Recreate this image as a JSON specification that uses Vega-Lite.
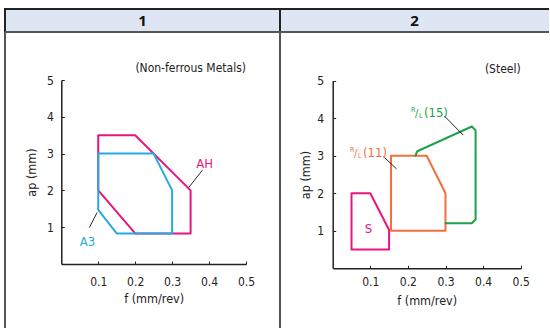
{
  "$schema": "https://vega.github.io/schema/vega-lite/v6.json",
  "padding": {"left": 4, "top": 8, "right": 0, "bottom": 0},
  "spacing": 0,
  "bounds": "flush",
  "align": "each",
  "columns": 2,
  "config": {
    "font": "Liberation Sans Narrow, DejaVu Sans Condensed, Roboto, sans-serif",
    "view": {"stroke": null}
  },
  "datasets": {
    "poly1": [
      {"shape": "AH", "order": 1, "f": 0.1, "ap": 3.5},
      {"shape": "AH", "order": 2, "f": 0.2, "ap": 3.5},
      {"shape": "AH", "order": 3, "f": 0.35, "ap": 2.0},
      {"shape": "AH", "order": 4, "f": 0.35, "ap": 0.83},
      {"shape": "AH", "order": 5, "f": 0.2, "ap": 0.83},
      {"shape": "AH", "order": 6, "f": 0.1, "ap": 2.0},
      {"shape": "AH", "order": 7, "f": 0.1, "ap": 3.5},
      {"shape": "A3", "order": 1, "f": 0.1, "ap": 3.0},
      {"shape": "A3", "order": 2, "f": 0.25, "ap": 3.0},
      {"shape": "A3", "order": 3, "f": 0.3, "ap": 2.0},
      {"shape": "A3", "order": 4, "f": 0.3, "ap": 0.83},
      {"shape": "A3", "order": 5, "f": 0.15, "ap": 0.83},
      {"shape": "A3", "order": 6, "f": 0.1, "ap": 1.47},
      {"shape": "A3", "order": 7, "f": 0.1, "ap": 3.0}
    ],
    "poly2": [
      {"shape": "S", "order": 1, "f": 0.05, "ap": 2.0},
      {"shape": "S", "order": 2, "f": 0.1, "ap": 2.0},
      {"shape": "S", "order": 3, "f": 0.15, "ap": 1.02},
      {"shape": "S", "order": 4, "f": 0.15, "ap": 0.5},
      {"shape": "S", "order": 5, "f": 0.05, "ap": 0.5},
      {"shape": "S", "order": 6, "f": 0.05, "ap": 2.0},
      {"shape": "RL11", "order": 1, "f": 0.155, "ap": 3.0},
      {"shape": "RL11", "order": 2, "f": 0.25, "ap": 3.0},
      {"shape": "RL11", "order": 3, "f": 0.3, "ap": 2.0},
      {"shape": "RL11", "order": 4, "f": 0.3, "ap": 1.0},
      {"shape": "RL11", "order": 5, "f": 0.155, "ap": 1.0},
      {"shape": "RL11", "order": 6, "f": 0.155, "ap": 3.0},
      {"shape": "RL15", "order": 1, "f": 0.22, "ap": 3.0},
      {"shape": "RL15", "order": 2, "f": 0.225, "ap": 3.12},
      {"shape": "RL15", "order": 3, "f": 0.37, "ap": 3.78},
      {"shape": "RL15", "order": 4, "f": 0.38, "ap": 3.68},
      {"shape": "RL15", "order": 5, "f": 0.38, "ap": 1.3},
      {"shape": "RL15", "order": 6, "f": 0.37, "ap": 1.2},
      {"shape": "RL15", "order": 7, "f": 0.3, "ap": 1.2}
    ],
    "labels1": [
      {"text": "AH", "shape": "AH", "f": 0.388, "ap": 2.61},
      {"text": "A3", "shape": "A3", "f": 0.071, "ap": 0.5}
    ],
    "labels2": [
      {"text": "S", "shape": "S", "f": 0.095, "ap": 0.95}
    ],
    "rl2": [
      {"sup": "R", "sub": "L", "num": "(11)", "shape": "RL11", "f": 0.046, "ap": 2.97},
      {"sup": "R", "sub": "L", "num": "(15)", "shape": "RL15", "f": 0.208, "ap": 4.035}
    ],
    "leaders1": [
      {"id": "AH", "order": 1, "f": 0.382, "ap": 2.55},
      {"id": "AH", "order": 2, "f": 0.345, "ap": 2.08},
      {"id": "A3", "order": 1, "f": 0.076, "ap": 0.99},
      {"id": "A3", "order": 2, "f": 0.097, "ap": 1.4}
    ],
    "leaders2": [
      {"id": "RL11", "order": 1, "f": 0.135, "ap": 2.976},
      {"id": "RL11", "order": 2, "f": 0.17, "ap": 2.65},
      {"id": "RL15", "order": 1, "f": 0.297, "ap": 4.06},
      {"id": "RL15", "order": 2, "f": 0.347, "ap": 3.55}
    ],
    "note1": [{"text": "(Non-ferrous Metals)", "f": 0.5, "ap": 5}],
    "note2": [{"text": "(Steel)", "f": 0.5, "ap": 5}]
  },
  "concat": [
    {
      "width": 275,
      "height": 23,
      "view": {"fill": "#dfe6f3", "stroke": "#222222", "strokeWidth": 2},
      "data": {"values": [{"col": "1"}]},
      "mark": {"type": "text", "font": "Open Sans", "fontWeight": "bold", "fontSize": 15, "color": "#111111"},
      "encoding": {"text": {"field": "col"}}
    },
    {
      "width": 269,
      "height": 23,
      "view": {"fill": "#dfe6f3", "stroke": "#222222", "strokeWidth": 2, "strokeDash": [269, 23, 292, 0]},
      "data": {"values": [{"col": "2"}]},
      "mark": {"type": "text", "font": "Open Sans", "fontWeight": "bold", "fontSize": 15, "color": "#111111"},
      "encoding": {"text": {"field": "col"}}
    },
    {
      "width": 275,
      "height": 296,
      "view": {"stroke": "#555555", "strokeWidth": 2, "strokeDash": [571, 275, 296, 0]},
      "encoding": {
        "x": {
          "field": "f", "type": "quantitative",
          "scale": {"domain": [0, 0.5], "range": [56.3, 241], "nice": false, "zero": false},
          "axis": {
            "orient": "bottom", "offset": -64, "values": [0.1, 0.2, 0.3, 0.4, 0.5], "format": ".1f",
            "grid": false, "tickSize": -3, "tickColor": "#222222", "domainColor": "#222222", "domainWidth": 1.5,
            "labelPadding": 15, "labelFontSize": 12, "labelColor": "#222222", "labelFlush": false, "labelOverlap": false,
            "title": "f (mm/rev)", "titleFontSize": 12.5, "titleFontWeight": "normal", "titleColor": "#222222", "titlePadding": 5,
            "zindex": 1
          }
        },
        "y": {
          "field": "ap", "type": "quantitative",
          "scale": {"domain": [0, 5], "range": [232, 48], "nice": false, "zero": false},
          "axis": {
            "orient": "left", "offset": -56.3, "values": [1, 2, 3, 4, 5], "format": "d",
            "grid": false, "tickSize": -3, "tickColor": "#222222", "domainColor": "#222222", "domainWidth": 1.5,
            "labelPadding": 11, "labelFontSize": 12, "labelColor": "#222222", "labelFlush": false, "labelOverlap": false,
            "title": "ap (mm)", "titleFontSize": 12.5, "titleFontWeight": "normal", "titleColor": "#222222", "titlePadding": 8,
            "zindex": 1
          }
        }
      },
      "layer": [
        {
          "data": {"values": [{}]},
          "mark": {"type": "rect", "fill": null, "stroke": "#8a8a8a", "strokeWidth": 1.3},
          "encoding": {
            "x": {"datum": 0, "type": "quantitative"},
            "x2": {"datum": 0.5},
            "y": {"datum": 0, "type": "quantitative"},
            "y2": {"datum": 5}
          }
        },
        {
          "data": {"name": "poly1"},
          "mark": {"type": "line", "strokeWidth": 2, "strokeJoin": "round", "strokeCap": "round"},
          "encoding": {
            "color": {"field": "shape", "type": "nominal", "legend": null,
              "scale": {"domain": ["AH", "A3", "S", "RL11", "RL15"], "range": ["#e5177e", "#27a9e1", "#e5177e", "#f26f3f", "#1da24a"]}},
            "order": {"field": "order", "type": "quantitative"}
          }
        },
        {
          "data": {"name": "leaders1"},
          "mark": {"type": "line", "strokeWidth": 0.9, "color": "#111111"},
          "encoding": {
            "detail": {"field": "id", "type": "nominal"},
            "order": {"field": "order", "type": "quantitative"}
          }
        },
        {
          "data": {"name": "labels1"},
          "mark": {"type": "text", "fontSize": 13, "align": "center", "baseline": "alphabetic"},
          "encoding": {
            "text": {"field": "text"},
            "color": {"field": "shape", "type": "nominal", "legend": null,
              "scale": {"domain": ["AH", "A3", "S", "RL11", "RL15"], "range": ["#e5177e", "#27a9e1", "#e5177e", "#f26f3f", "#1da24a"]}}
          }
        },
        {
          "data": {"name": "note1"},
          "mark": {"type": "text", "fontSize": 12, "align": "right", "baseline": "alphabetic", "dy": -8, "color": "#222222"},
          "encoding": {"text": {"field": "text"}}
        }
      ]
    },
    {
      "width": 269,
      "height": 296,
      "view": {"stroke": "#555555", "strokeWidth": 2, "strokeDash": [269, 565, 296, 0]},
      "encoding": {
        "x": {
          "field": "f", "type": "quantitative",
          "scale": {"domain": [0, 0.5], "range": [52.7, 240.7], "nice": false, "zero": false},
          "axis": {
            "orient": "bottom", "offset": -59.7, "values": [0.1, 0.2, 0.3, 0.4, 0.5], "format": ".1f",
            "grid": false, "tickSize": -3, "tickColor": "#222222", "domainColor": "#222222", "domainWidth": 1.5,
            "labelPadding": 11, "labelFontSize": 12, "labelColor": "#222222", "labelFlush": false, "labelOverlap": false,
            "title": "f (mm/rev)", "titleFontSize": 12.5, "titleFontWeight": "normal", "titleColor": "#222222", "titlePadding": 7,
            "zindex": 1
          }
        },
        "y": {
          "field": "ap", "type": "quantitative",
          "scale": {"domain": [0, 5], "range": [236.3, 48.7], "nice": false, "zero": false},
          "axis": {
            "orient": "left", "offset": -52.7, "values": [1, 2, 3, 4, 5], "format": "d",
            "grid": false, "tickSize": -3, "tickColor": "#222222", "domainColor": "#222222", "domainWidth": 1.5,
            "labelPadding": 12, "labelFontSize": 12, "labelColor": "#222222", "labelFlush": false, "labelOverlap": false,
            "title": "ap (mm)", "titleFontSize": 12.5, "titleFontWeight": "normal", "titleColor": "#222222", "titlePadding": 4,
            "zindex": 1
          }
        }
      },
      "layer": [
        {
          "data": {"values": [{}]},
          "mark": {"type": "rect", "fill": null, "stroke": "#8a8a8a", "strokeWidth": 1.3},
          "encoding": {
            "x": {"datum": 0, "type": "quantitative"},
            "x2": {"datum": 0.5},
            "y": {"datum": 0, "type": "quantitative"},
            "y2": {"datum": 5}
          }
        },
        {
          "data": {"name": "poly2"},
          "mark": {"type": "line", "strokeWidth": 2, "strokeJoin": "round", "strokeCap": "round"},
          "encoding": {
            "color": {"field": "shape", "type": "nominal", "legend": null,
              "scale": {"domain": ["AH", "A3", "S", "RL11", "RL15"], "range": ["#e5177e", "#27a9e1", "#e5177e", "#f26f3f", "#1da24a"]}},
            "order": {"field": "order", "type": "quantitative"}
          }
        },
        {
          "data": {"name": "leaders2"},
          "mark": {"type": "line", "strokeWidth": 0.9, "color": "#111111"},
          "encoding": {
            "detail": {"field": "id", "type": "nominal"},
            "order": {"field": "order", "type": "quantitative"}
          }
        },
        {
          "data": {"name": "labels2"},
          "mark": {"type": "text", "fontSize": 13, "align": "center", "baseline": "alphabetic"},
          "encoding": {
            "text": {"field": "text"},
            "color": {"field": "shape", "type": "nominal", "legend": null,
              "scale": {"domain": ["AH", "A3", "S", "RL11", "RL15"], "range": ["#e5177e", "#27a9e1", "#e5177e", "#f26f3f", "#1da24a"]}}
          }
        },
        {
          "data": {"name": "rl2"},
          "mark": {"type": "text", "fontSize": 7, "align": "left", "baseline": "alphabetic", "dy": -5},
          "encoding": {
            "text": {"field": "sup"},
            "color": {"field": "shape", "type": "nominal", "legend": null,
              "scale": {"domain": ["AH", "A3", "S", "RL11", "RL15"], "range": ["#e5177e", "#27a9e1", "#e5177e", "#f26f3f", "#1da24a"]}}
          }
        },
        {
          "data": {"name": "rl2"},
          "mark": {"type": "text", "fontSize": 11, "align": "left", "baseline": "alphabetic", "dx": 4},
          "encoding": {
            "text": {"value": "/"},
            "color": {"field": "shape", "type": "nominal", "legend": null,
              "scale": {"domain": ["AH", "A3", "S", "RL11", "RL15"], "range": ["#e5177e", "#27a9e1", "#e5177e", "#f26f3f", "#1da24a"]}}
          }
        },
        {
          "data": {"name": "rl2"},
          "mark": {"type": "text", "fontSize": 7, "align": "left", "baseline": "alphabetic", "dx": 8, "dy": 1},
          "encoding": {
            "text": {"field": "sub"},
            "color": {"field": "shape", "type": "nominal", "legend": null,
              "scale": {"domain": ["AH", "A3", "S", "RL11", "RL15"], "range": ["#e5177e", "#27a9e1", "#e5177e", "#f26f3f", "#1da24a"]}}
          }
        },
        {
          "data": {"name": "rl2"},
          "mark": {"type": "text", "fontSize": 13, "align": "left", "baseline": "alphabetic", "dx": 13},
          "encoding": {
            "text": {"field": "num"},
            "color": {"field": "shape", "type": "nominal", "legend": null,
              "scale": {"domain": ["AH", "A3", "S", "RL11", "RL15"], "range": ["#e5177e", "#27a9e1", "#e5177e", "#f26f3f", "#1da24a"]}}
          }
        },
        {
          "data": {"name": "note2"},
          "mark": {"type": "text", "fontSize": 12, "align": "right", "baseline": "alphabetic", "dy": -8, "color": "#222222"},
          "encoding": {"text": {"field": "text"}}
        }
      ]
    }
  ]
}
